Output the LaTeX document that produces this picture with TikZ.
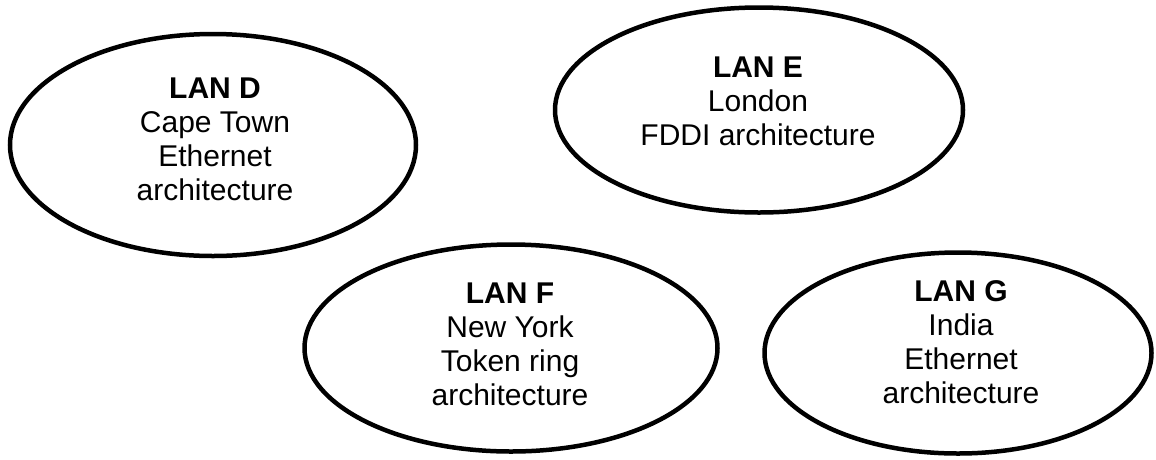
\documentclass[tikz,border=0pt]{standalone}
\usepackage{fontspec}
\setmainfont{Liberation Sans}
\usetikzlibrary{shapes.geometric}
\tikzstyle{lan} = [ellipse, draw=black, line width=4.5pt, inner sep=0pt]
\tikzstyle{info} = [align=center, inner sep=0pt, font=\fontsize{30}{34}\selectfont]

\begin{document}
\begin{tikzpicture}[x=1pt, y=-1pt]
        \useasboundingbox (0,0) rectangle (1156,459);
        \node (lanD) [lan, minimum width=406pt, minimum height=222pt] at (213,145) {};
        \node (lanE) [lan, minimum width=408pt, minimum height=205pt] at (759,110) {};
        \node (lanF) [lan, minimum width=413pt, minimum height=207pt] at (511,348) {};
        \node (lanG) [lan, minimum width=387pt, minimum height=201pt] at (958,353) {};
        \node (textD) [info] at (215,139) {\textbf{LAN D}\\Cape Town\\Ethernet\\architecture};
        \node (textE) [info] at (758,101) {\textbf{LAN E}\\London\\FDDI architecture};
        \node (textF) [info] at (510,344) {\textbf{LAN F}\\New York\\Token ring\\architecture};
        \node (textG) [info] at (961,342) {\textbf{LAN G}\\India\\Ethernet\\architecture};
      \end{tikzpicture}
\end{document}
